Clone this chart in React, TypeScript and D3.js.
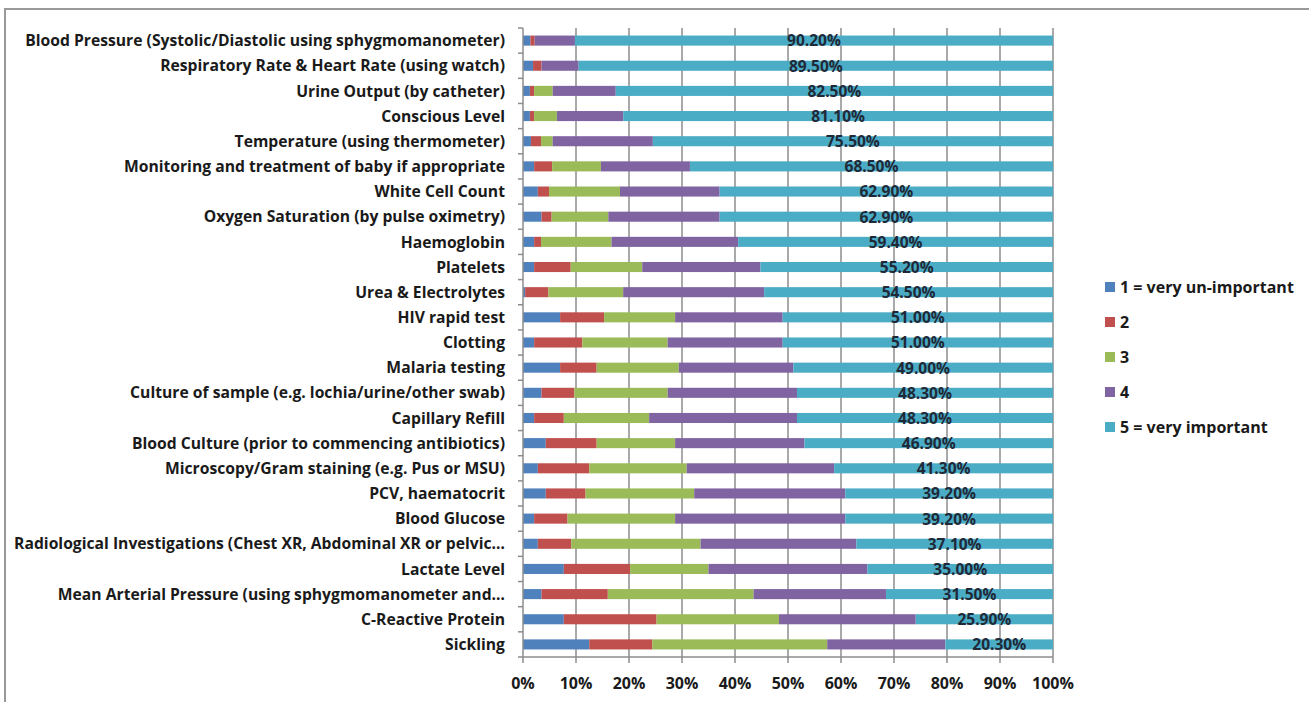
import React from "react";
import * as d3 from "d3";

const categories = [
  "Blood Pressure (Systolic/Diastolic using sphygmomanometer)",
  "Respiratory Rate & Heart Rate (using watch)",
  "Urine Output (by catheter)",
  "Conscious Level",
  "Temperature (using thermometer)",
  "Monitoring and treatment of baby if appropriate",
  "White Cell Count",
  "Oxygen Saturation (by pulse oximetry)",
  "Haemoglobin",
  "Platelets",
  "Urea & Electrolytes",
  "HIV rapid test",
  "Clotting",
  "Malaria testing",
  "Culture of sample (e.g. lochia/urine/other swab)",
  "Capillary Refill",
  "Blood Culture (prior to commencing antibiotics)",
  "Microscopy/Gram staining (e.g. Pus or MSU)",
  "PCV, haematocrit",
  "Blood Glucose",
  "Radiological Investigations (Chest XR, Abdominal XR or pelvic…",
  "Lactate Level",
  "Mean Arterial Pressure (using sphygmomanometer and…",
  "C-Reactive Protein",
  "Sickling",
];

const s1 = [1.4, 1.9, 1.3, 1.3, 1.5, 2.1, 2.8, 3.5, 2.1, 2.1, 0.4, 7.0, 2.1, 7.0, 3.5, 2.1, 4.3, 2.8, 4.3, 2.1, 2.8, 7.7, 3.5, 7.7, 12.5];
const s2 = [0.8, 1.6, 0.8, 0.8, 1.9, 3.4, 2.1, 1.9, 1.3, 6.9, 4.4, 8.3, 9.1, 6.9, 6.2, 5.6, 9.6, 9.7, 7.5, 6.3, 6.3, 12.5, 12.5, 17.5, 11.9];
const s3 = [0, 0, 3.5, 4.3, 2.2, 9.2, 13.4, 10.7, 13.3, 13.5, 14.1, 13.4, 16.1, 15.5, 17.6, 16.1, 14.8, 18.4, 20.5, 20.3, 24.4, 14.8, 27.5, 23.1, 33.0];
const s4 = [7.6, 7.0, 11.9, 12.5, 18.9, 16.8, 18.8, 21.0, 23.9, 22.3, 26.6, 20.3, 21.7, 21.6, 24.4, 27.9, 24.4, 27.8, 28.5, 32.1, 29.4, 30.0, 25.0, 25.8, 22.3];
const s5 = [90.2, 89.5, 82.5, 81.1, 75.5, 68.5, 62.9, 62.9, 59.4, 55.2, 54.5, 51.0, 51.0, 49.0, 48.3, 48.3, 46.9, 41.3, 39.2, 39.2, 37.1, 35.0, 31.5, 25.9, 20.3];

const seriesNames = ["1 = very un-important", "2", "3", "4", "5 = very important"];
const seriesColors = ["#4F81BD", "#C0504D", "#9BBB59", "#8064A2", "#4BACC6"];
const xTicks = [0, 10, 20, 30, 40, 50, 60, 70, 80, 90, 100];

export default function App() {
  const W = 1309, H = 702;
  const left = 523, right = 1053, top = 28, bottom = 657;
  const x = d3.scaleLinear().domain([0, 100]).range([left, right]);
  const y = d3.scaleBand().domain(categories).range([top, bottom]).paddingInner(0.6).paddingOuter(0.3);
  const yOuter = d3.scaleBand().domain(categories).range([top, bottom]);

  const rows = categories.map((c, i) => ({ cat: c, v: [s1[i], s2[i], s3[i], s4[i], s5[i]] }));
  const stack = d3.stack<any>().keys([0, 1, 2, 3, 4] as any).value((d: any, k: any) => d.v[k]);
  const stacked = stack(rows as any);

  const font = "'Open Sans', sans-serif";
  const textColor = "#1a1a1a";

  return (
    <svg width={W} height={H} style={{ position: "fixed", left: 0, top: 0, background: "#fff" }} fontFamily={font}>
      <rect x={0} y={0} width={W} height={H} fill="#fff" />
      {/* frame */}
      <line x1={4} y1={9} x2={W} y2={9} stroke="#999999" strokeWidth={2} />
      <line x1={5} y1={8} x2={5} y2={H} stroke="#999999" strokeWidth={2} />
      {/* gridlines */}
      {xTicks.slice(1).map((t) => (
        <line key={"g" + t} x1={x(t)} x2={x(t)} y1={top} y2={bottom} stroke="#8c8c8c" strokeWidth={1.5} />
      ))}
      {/* bars */}
      {stacked.map((layer: any, si: number) => (
        <g key={"s" + si} fill={seriesColors[si]}>
          {layer.map((d: any, i: number) => (
            <rect
              key={i}
              x={x(d[0])}
              width={Math.max(0, x(d[1]) - x(d[0]))}
              y={y(categories[i])}
              height={y.bandwidth()}
            />
          ))}
        </g>
      ))}
      {/* value labels */}
      {stacked[4].map((d: any, i: number) => (
        <text
          key={"v" + i}
          x={(x(d[0]) + x(d[1])) / 2}
          y={(y(categories[i]) as number) + y.bandwidth() / 2}
          dy="0.38em"
          textAnchor="middle"
          fontSize={15.5}
          fontWeight="bold"
          fill="#1f2937"
        >
          {s5[i].toFixed(2) + "%"}
        </text>
      ))}
      {/* y axis */}
      <line x1={left} x2={left} y1={top} y2={bottom} stroke="#8c8c8c" strokeWidth={1.5} />
      {categories.map((c, i) => (
        <line key={"yt" + i} x1={left - 5} x2={left} y1={yOuter(c)} y2={yOuter(c)} stroke="#8c8c8c" strokeWidth={1.5} />
      ))}
      <line x1={left - 5} x2={left} y1={bottom} y2={bottom} stroke="#8c8c8c" strokeWidth={1.5} />
      {categories.map((c) => (
        <text
          key={"yl" + c}
          x={505}
          y={(y(c) as number) + y.bandwidth() / 2}
          dy="0.36em"
          textAnchor="end"
          fontSize={15.7}
          fontWeight="bold"
          fill={textColor}
        >
          {c}
        </text>
      ))}
      {/* x axis */}
      <line x1={left} x2={right} y1={bottom} y2={bottom} stroke="#8c8c8c" strokeWidth={1.5} />
      {xTicks.map((t) => (
        <g key={"xt" + t}>
          <line x1={x(t)} x2={x(t)} y1={bottom} y2={bottom + 6} stroke="#8c8c8c" strokeWidth={1.5} />
          <text x={x(t)} y={689} textAnchor="middle" fontSize={16} fontWeight="bold" fill={textColor}>
            {t + "%"}
          </text>
        </g>
      ))}
      {/* legend */}
      {seriesNames.map((n, i) => (
        <g key={"lg" + i} transform={`translate(1105, ${287 + i * 35})`}>
          <rect x={0} y={-5} width={10} height={10} fill={seriesColors[i]} />
          <text x={15} y={0} dy="0.36em" fontSize={16} fontWeight="bold" fill={textColor}>
            {n}
          </text>
        </g>
      ))}
    </svg>
  );
}
